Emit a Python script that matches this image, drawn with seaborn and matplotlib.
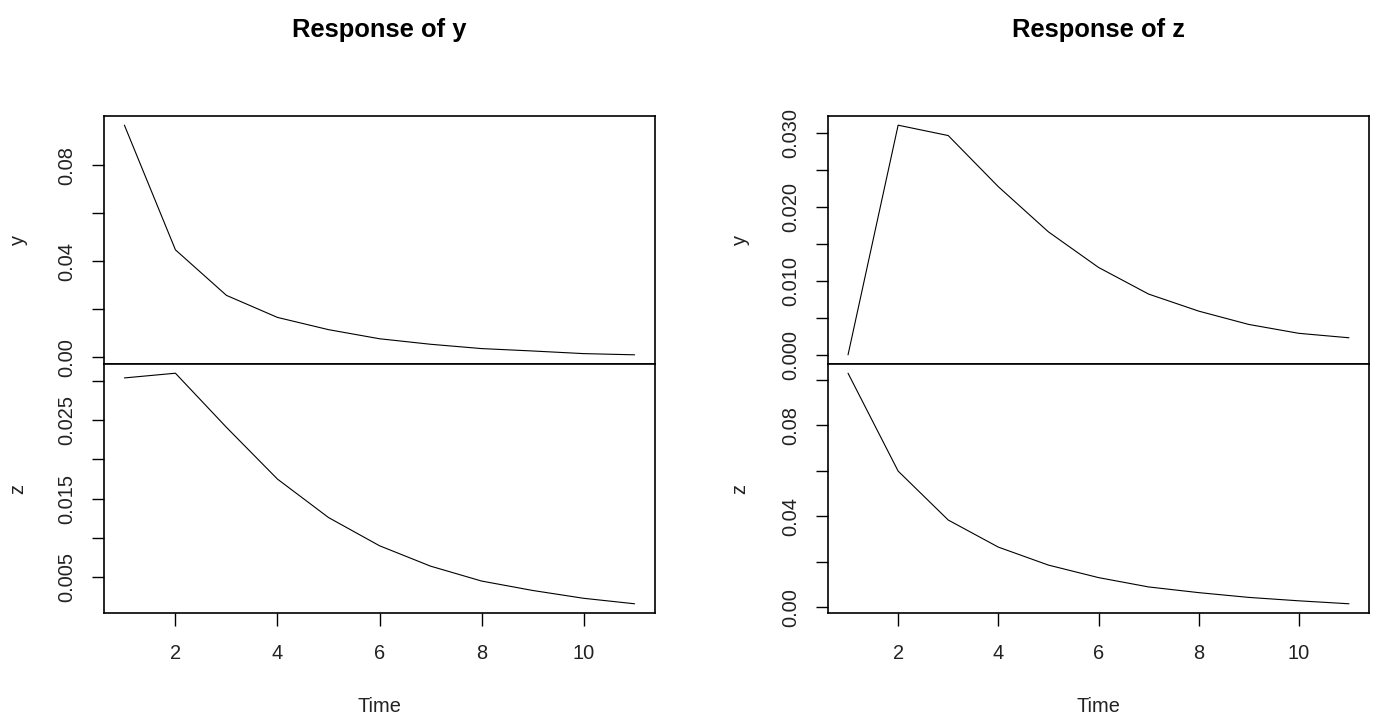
import matplotlib
matplotlib.use("Agg")
import matplotlib.pyplot as plt
import seaborn as sns
import numpy as np
import pandas as pd

# ---- data ----
time = [1, 2, 3, 4, 5, 6, 7, 8, 9, 10, 11]
# impulse: y
resp_y_of_y = [0.0968, 0.0448, 0.0258, 0.0166, 0.0115, 0.0077, 0.0054, 0.0036, 0.0026, 0.0015, 0.0010]
resp_z_of_y = [0.0304, 0.0310, 0.0241, 0.0175, 0.0126, 0.0090, 0.0064, 0.0045, 0.0033, 0.0023, 0.0016]
# impulse: z
resp_y_of_z = [0.0000, 0.0310, 0.0296, 0.0227, 0.0166, 0.0118, 0.0082, 0.0059, 0.0041, 0.0029, 0.0023]
resp_z_of_z = [0.1029, 0.0599, 0.0384, 0.0265, 0.0186, 0.0131, 0.0090, 0.0065, 0.0044, 0.0029, 0.0016]

titles = ["Response of y", "Response of z"]
var_labels = ["y", "z"]
x_ticks = [2, 4, 6, 8, 10]

# y ticks (all tick marks) and which of them carry a label
yticks = {
    (0, 0): ([0.00, 0.02, 0.04, 0.06, 0.08], ["0.00", "", "0.04", "", "0.08"]),
    (0, 1): ([0.005, 0.010, 0.015, 0.020, 0.025, 0.030], ["0.005", "", "0.015", "", "0.025", ""]),
    (1, 0): ([0.000, 0.005, 0.010, 0.015, 0.020, 0.025, 0.030],
             ["0.000", "", "0.010", "", "0.020", "", "0.030"]),
    (1, 1): ([0.00, 0.02, 0.04, 0.06, 0.08, 0.10], ["0.00", "", "0.04", "", "0.08", ""]),
}

series = {
    (0, 0): resp_y_of_y, (0, 1): resp_z_of_y,
    (1, 0): resp_y_of_z, (1, 1): resp_z_of_z,
}

sns.set_theme(style="white")
plt.rcParams["font.family"] = ["Liberation Sans", "DejaVu Sans"]

W, H = 1375, 720
fig = plt.figure(figsize=(W / 100, H / 100), dpi=100)

col_left = [104, 828]
col_width = [551, 541]
top_y, mid_y, bot_y = 116, 364, 613
ylabel_x = [18, 740]

FS = 14.4
for c in range(2):
    x0 = col_left[c] / W
    w = col_width[c] / W
    axes = [
        fig.add_axes([x0, (H - mid_y) / H, w, (mid_y - top_y) / H]),
        fig.add_axes([x0, (H - bot_y) / H, w, (bot_y - mid_y) / H]),
    ]
    for r, ax in enumerate(axes):
        df = pd.DataFrame({"Time": time, "value": series[(c, r)]})
        sns.lineplot(data=df, x="Time", y="value", ax=ax, color="black", linewidth=0.8)
        ax.set_xlim(0.6, 11.4)
        ax.margins(y=0.04)
        ax.autoscale(axis="y")
        tv, tl = yticks[(c, r)]
        ax.set_yticks(tv)
        ax.set_yticklabels(tl)
        for s in ax.spines.values():
            s.set_visible(True)
            s.set_color("black")
            s.set_linewidth(1.2)
        ax.tick_params(axis="y", direction="out", length=9, width=1.0, color="black",
                       labelsize=FS, pad=11, left=True, labelcolor="#222222")
        for lab in ax.get_yticklabels():
            lab.set_rotation(90)
            lab.set_va("center")
        ax.set_ylabel(var_labels[r], fontsize=FS, color="#222222", va="center")
        ax.yaxis.set_label_coords((ylabel_x[c] - col_left[c]) / col_width[c], 0.5)
        if r == 0:
            ax.set_xticks([])
            ax.set_xlabel("")
        else:
            ax.set_xticks(x_ticks)
            ax.set_xticklabels([str(t) for t in x_ticks])
            ax.tick_params(axis="x", direction="out", length=9.5, width=1.0, color="black",
                           labelsize=FS, pad=13, bottom=True, labelcolor="#222222")
            ax.set_xlabel("Time", fontsize=FS, va="center", color="#222222")
            ax.xaxis.set_label_coords(0.5, -(707 - bot_y) / (bot_y - mid_y))
        ax.set_facecolor("white")
    cx = (col_left[c] + col_width[c] / 2) / W
    fig.text(cx, 1 - 30 / H, titles[c], ha="center", va="center",
             fontsize=18.4, fontweight="bold", color="black")

fig.savefig("out.png", dpi=100, facecolor="white")
